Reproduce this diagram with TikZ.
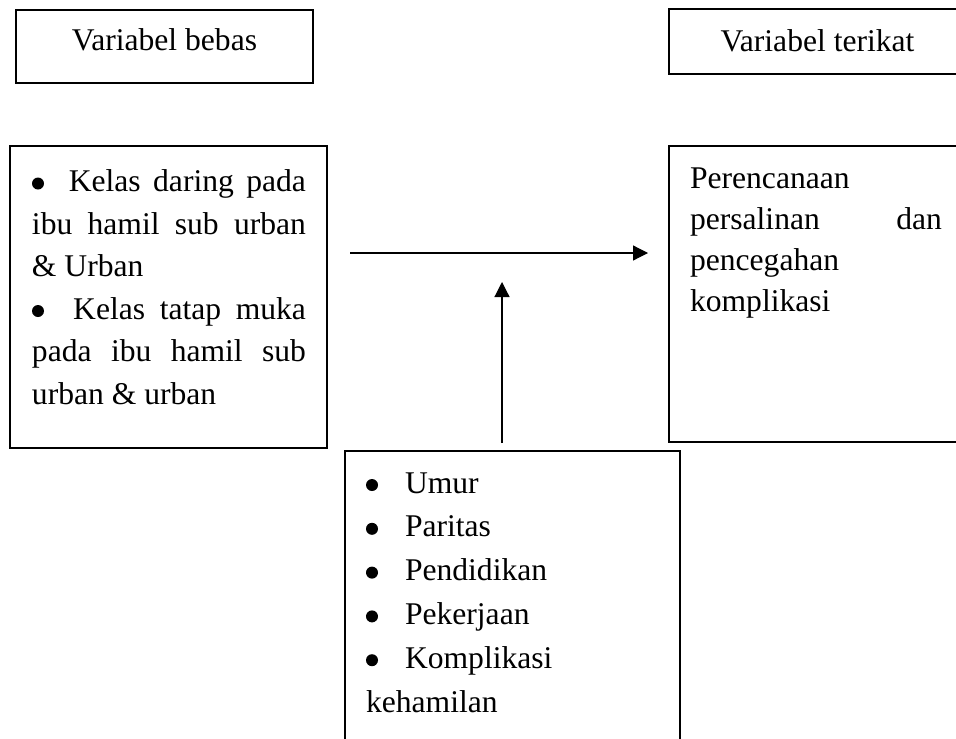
\documentclass[tikz,border=0pt]{standalone}
\usepackage{fontspec}
\setmainfont{Liberation Serif}
\usetikzlibrary{arrows.meta}
\newcommand{\bul}{\tikz[baseline=0pt,x=1pt,y=1pt]\fill (0,4) circle [radius=3];}
\tikzset{
  boxnode/.style={draw, line width=1pt, inner sep=0pt, outer sep=0pt, anchor=north west},
  txt/.style={inner sep=0pt, outer sep=0pt, anchor=base west, font=\fontsize{15.8pt}{15.8pt}\selectfont},
  arr/.style={line width=0.6pt, -{Triangle[length=7.5pt,width=7.5pt]}}
}
\begin{document}
\begin{tikzpicture}[x=0.5pt,y=-0.5pt]
\useasboundingbox (0,0) rectangle (956,738);
\clip (0,0) rectangle (956,738);
% header boxes
\node[boxnode, minimum width=148.5pt, minimum height=36.5pt] (tb1) at (16,10) {};
\node[txt, anchor=base] (tb1t) at (164.5,50.7) {Variabel bebas};
\node[boxnode, minimum width=148.5pt, minimum height=32.5pt] (tb2) at (669,9) {};
\node[txt, anchor=base] (tb2t) at (817.5,51.5) {Variabel terikat};
% main boxes
\node[boxnode, minimum width=158.5pt, minimum height=151pt] (lb) at (10,146) {};
\node[txt] (lbt) at (32,191.5) {\parbox[t]{137pt}{\fontsize{15.8pt}{21.25pt}\selectfont
  \makebox[137pt][s]{\bul\ \ Kelas daring pada}\\
  \makebox[137pt][s]{ibu hamil sub urban}\\
  \& Urban\\
  \makebox[137pt][s]{\bul\ \ Kelas tatap muka}\\
  \makebox[137pt][s]{pada ibu hamil sub}\\
  urban \& urban}};
\node[boxnode, minimum width=148.5pt, minimum height=148pt] (rb) at (669,146) {};
\node[txt] (rbt) at (690,188) {\parbox[t]{126pt}{\fontsize{15.8pt}{20.6pt}\selectfont
  Perencanaan\\
  \makebox[126pt][s]{persalinan dan}\\
  pencegahan\\
  komplikasi}};
\node[boxnode, minimum width=167.5pt, minimum height=155pt] (bb) at (345,451) {};
\node[txt] (bbt) at (366,493) {\parbox[t]{150pt}{\fontsize{15.8pt}{21.9pt}\selectfont
  \makebox[19.5pt][l]{\bul}Umur\\
  \makebox[19.5pt][l]{\bul}Paritas\\
  \makebox[19.5pt][l]{\bul}Pendidikan\\
  \makebox[19.5pt][l]{\bul}Pekerjaan\\
  \makebox[19.5pt][l]{\bul}Komplikasi\\
  kehamilan}};
% arrows
\coordinate (h1) at (350,253);
\coordinate (h2) at (648,253);
\draw[arr] (h1) -- (h2);
\coordinate (v1) at (502,443);
\coordinate (v2) at (502,282);
\draw[arr] (v1) -- (v2);
\end{tikzpicture}
\end{document}
